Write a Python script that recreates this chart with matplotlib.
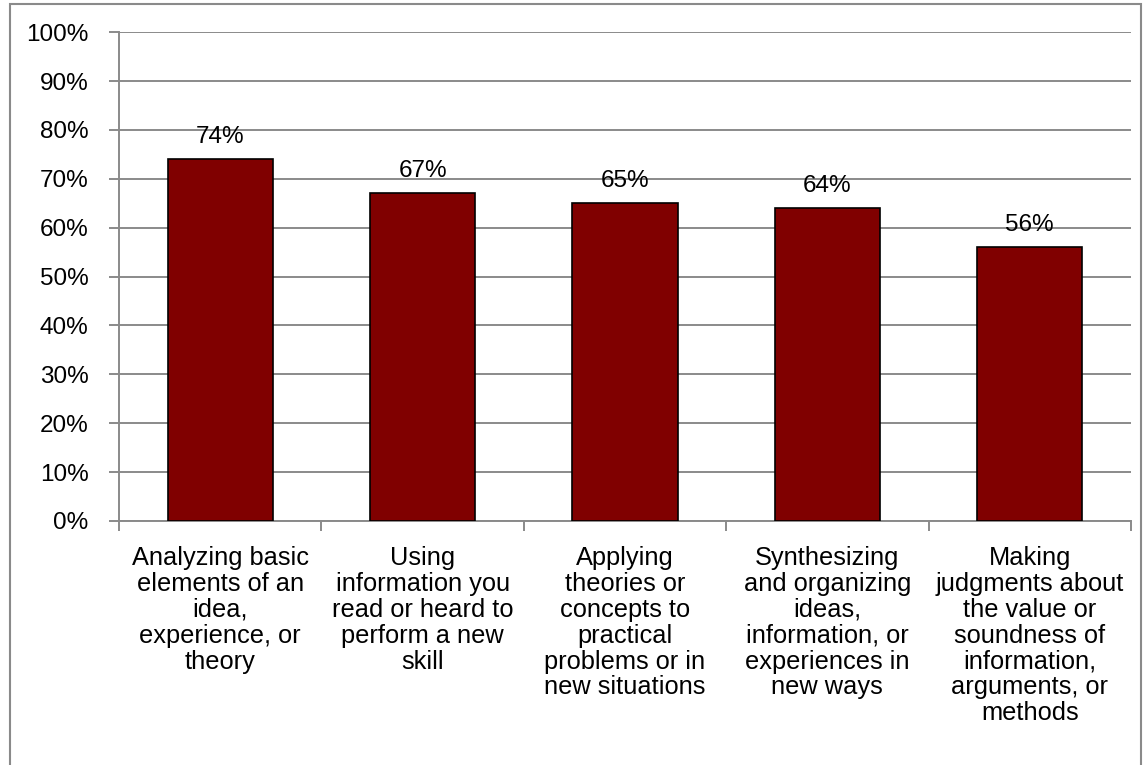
import matplotlib
matplotlib.use("Agg")
import matplotlib.pyplot as plt
from matplotlib.patches import Rectangle
from matplotlib.ticker import PercentFormatter

categories = [
    "Analyzing basic\nelements of an\nidea,\nexperience, or\ntheory",
    "Using\ninformation you\nread or heard to\nperform a new\nskill",
    "Applying\ntheories or\nconcepts to\npractical\nproblems or in\nnew situations",
    "Synthesizing\nand organizing\nideas,\ninformation, or\nexperiences in\nnew ways",
    "Making\njudgments about\nthe value or\nsoundness of\ninformation,\narguments, or\nmethods",
]
values = [74, 67, 65, 64, 56]
yticks = [0, 10, 20, 30, 40, 50, 60, 70, 80, 90, 100]

plt.rcParams['font.family'] = ['Liberation Sans', 'DejaVu Sans']
FS = 17.5

fig = plt.figure(figsize=(11.44, 7.65), dpi=100)
ax = fig.add_axes([0.104, 0.319, 0.8846, 0.639])

x = list(range(len(values)))
ax.bar(x, values, width=0.52, color='#800000', edgecolor='black', linewidth=1.2, zorder=3)
for xi, v in zip(x, values):
    ax.annotate(f"{v}%", (xi, v), xytext=(0, 8), textcoords='offset points',
                ha='center', va='bottom', fontsize=FS, color='black')

ax.set_xlim(-0.5, len(values) - 0.5)
ax.set_ylim(0, 100)
ax.set_yticks(yticks)
ax.yaxis.set_major_formatter(PercentFormatter(decimals=0))
ax.yaxis.grid(True, color='#8a8a8a', linewidth=1.4, zorder=0)
ax.set_axisbelow(True)

ax.set_xticks([i - 0.5 for i in range(len(values) + 1)])
ax.set_xticklabels([])
ax.set_xticks(x, minor=True)
ax.set_xticklabels(categories, minor=True, fontsize=18.3, linespacing=1.1, va='top')
ax.tick_params(axis='x', which='minor', length=0, pad=18)
ax.tick_params(axis='x', which='major', length=7, color='#8a8a8a', width=1.4)
ax.tick_params(axis='y', length=7, color='#8a8a8a', width=1.4, labelsize=FS, pad=15)

for s in ['top', 'right']:
    ax.spines[s].set_visible(False)
for s in ['left', 'bottom']:
    ax.spines[s].set_color('#8a8a8a')
    ax.spines[s].set_linewidth(1.4)

fig.patches.append(Rectangle((10/1144, -0.05), 1131/1144, 1 - 4/765 + 0.05,
                             transform=fig.transFigure, fill=False,
                             edgecolor='#8a8a8a', linewidth=1.5))

fig.savefig("out.png", dpi=100)
